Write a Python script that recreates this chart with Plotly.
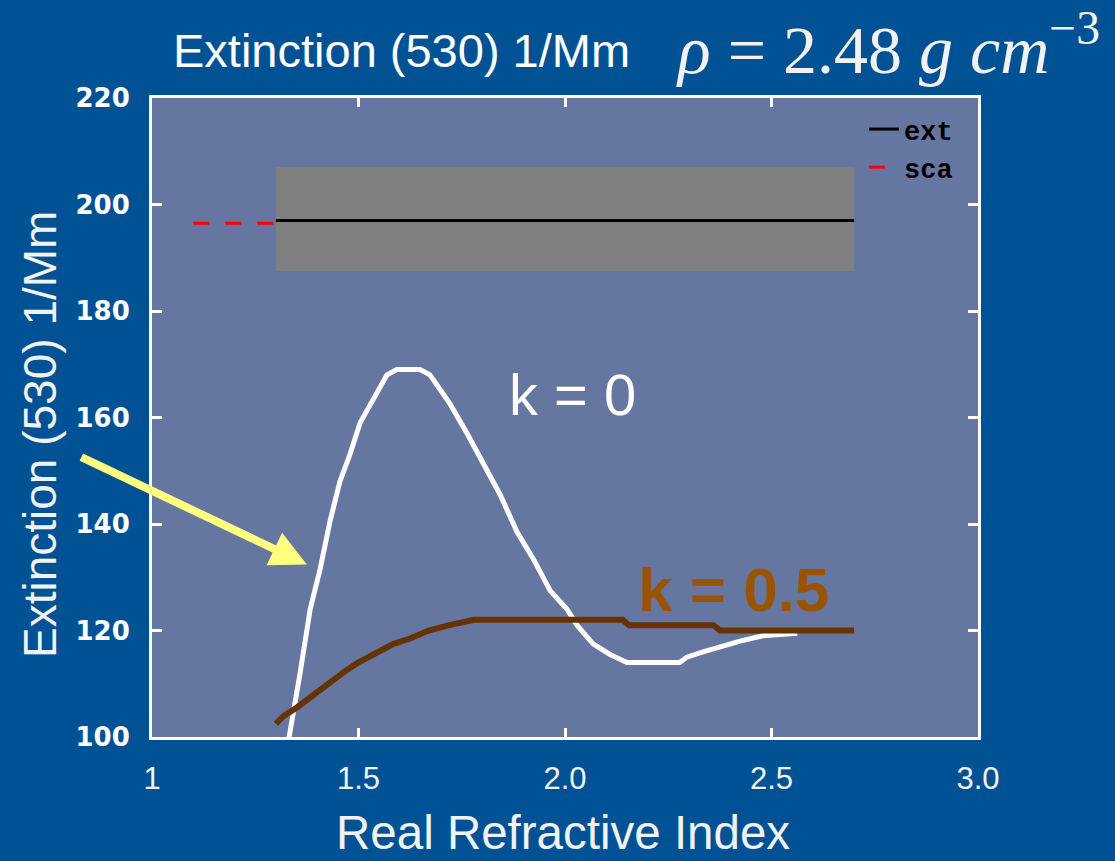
import plotly.graph_objects as go

# ---------------- data ----------------
# k = 0 (white curve)
n_k0 = [1.322, 1.332, 1.358, 1.383, 1.407, 1.431, 1.455, 1.479, 1.504, 1.528, 1.552,
        1.569, 1.593, 1.649, 1.673, 1.722, 1.763, 1.801, 1.843, 1.884, 1.923, 1.964,
        2.005, 2.029, 2.068, 2.109, 2.150, 2.278, 2.295, 2.334, 2.375, 2.424, 2.479, 2.562]
ext_k0 = [96, 100, 111.7, 124, 131.5, 140.5, 148, 153, 159, 162.5, 166,
          168, 169, 169, 168, 162.5, 157, 151.5, 145.5, 138.5, 133.5, 127.5,
          124, 121, 117.5, 115.5, 114, 114, 115, 116, 117, 118, 119, 119.5]

# k = 0.5 (brown curve)
n_k05 = [1.30, 1.32, 1.35, 1.375, 1.41, 1.44, 1.47, 1.50, 1.545, 1.585, 1.625,
         1.67, 1.72, 1.78, 2.14, 2.155, 2.36, 2.375, 2.70]
ext_k05 = [102.5, 104, 105.5, 107, 109, 111, 112.5, 114, 116, 117.5, 118.5,
           120, 121, 122, 122, 121, 121, 120, 120]

# measured extinction with uncertainty band, and scattering
meas_n = [1.3, 2.7]
meas_ext = [197, 197]
meas_ext_lo = [187.5, 187.5]
meas_ext_hi = [207, 207]
sca_n = [1.1, 1.3]
sca_val = [196.5, 196.5]

x_ticks = [1, 1.5, 2, 2.5, 3]
x_tick_text = ["1", "1.5", "2.0", "2.5", "3.0"]
y_ticks = [100, 120, 140, 160, 180, 200, 220]

# ---------------- styling ----------------
BG = "#005294"
PLOT_BG = "#6577a1"
WHITE = "#ffffff"

fig = go.Figure()

# uncertainty band (gray box)
fig.add_trace(go.Scatter(x=meas_n, y=meas_ext_lo, mode="lines", line=dict(width=0),
                         showlegend=False, hoverinfo="skip"))
fig.add_trace(go.Scatter(x=meas_n, y=meas_ext_hi, mode="lines", line=dict(width=0),
                         fill="tonexty", fillcolor="#808080", showlegend=False, hoverinfo="skip"))

fig.add_trace(go.Scatter(x=meas_n, y=meas_ext, mode="lines", name="ext",
                         line=dict(color="black", width=3)))
fig.add_trace(go.Scatter(x=sca_n, y=sca_val, mode="lines", name="sca",
                         line=dict(color="#ff0000", width=3, dash="16px,16px")))

fig.add_trace(go.Scatter(x=n_k0, y=ext_k0, mode="lines", showlegend=False,
                         line=dict(color=WHITE, width=5)))
fig.add_trace(go.Scatter(x=n_k05, y=ext_k05, mode="lines", showlegend=False,
                         line=dict(color="#663300", width=6)))

W, H = 1115, 861
L, R, T, B = 152, 978, 98, 737


def px(x):
    return (x - L) / (R - L)


def py(y):
    return (B - y) / (B - T)


annotations = [
    dict(text="Extinction (530) 1/Mm", xref="paper", yref="paper", x=px(401), y=py(50),
         showarrow=False, font=dict(family="Liberation Sans, Arial", size=47, color=WHITE),
         xanchor="center", yanchor="middle"),
    dict(text="<i>ρ</i> = 2.48 <i>g cm</i><sup>−3</sup>", xref="paper", yref="paper",
         x=px(674), y=py(45), showarrow=False,
         font=dict(family="Liberation Serif, Times New Roman", size=68, color="#f2f2f2"),
         xanchor="left", yanchor="middle"),
    dict(text="Extinction (530) 1/Mm", xref="paper", yref="paper", x=px(40), y=py(435),
         showarrow=False, textangle=-90,
         font=dict(family="Liberation Sans, Arial", size=46, color="#f2f2f2"),
         xanchor="center", yanchor="middle"),
    dict(text="Real Refractive Index", xref="paper", yref="paper", x=px(563), y=py(832),
         showarrow=False, font=dict(family="Liberation Sans, Arial", size=47.5, color="#f2f2f2"),
         xanchor="center", yanchor="middle"),
    dict(text="k = 0", x=2.017, y=164.4, xref="x", yref="y", showarrow=False,
         font=dict(family="Liberation Sans, Arial", size=58, color=WHITE),
         xanchor="center", yanchor="middle"),
    dict(text="<b>k = 0.5</b>", x=2.407, y=127.7, xref="x", yref="y", showarrow=False,
         font=dict(family="Liberation Sans, Arial", size=62, color="#9a5300"),
         xanchor="center", yanchor="middle"),
    dict(text="", x=1.375, y=132.4, xref="x", yref="y", showarrow=True,
         ax=-227, ay=-108, arrowhead=2, arrowsize=0.9, arrowwidth=8,
         arrowcolor="#ffff80", standoff=0),
]

fig.update_layout(
    width=W, height=H,
    margin=dict(l=L, r=W - R, t=T, b=H - B),
    paper_bgcolor=BG, plot_bgcolor=PLOT_BG,
    annotations=annotations,
    legend=dict(x=px(864), y=py(105), xanchor="left", yanchor="top",
                bgcolor="rgba(0,0,0,0)", borderwidth=0, traceorder="normal",
                font=dict(family="Liberation Mono, Courier New", size=27, color="black",
                          weight="bold"),
                itemwidth=30, tracegroupgap=0),
    showlegend=True,
)
fig.update_xaxes(range=[1, 3], tickvals=x_ticks, ticktext=x_tick_text,
                 showgrid=False, zeroline=False, showline=True, linecolor=WHITE,
                 linewidth=3, mirror="ticks", ticks="inside", ticklen=9, tickwidth=3,
                 tickcolor=WHITE, ticklabelstandoff=12,
                 tickfont=dict(family="Liberation Sans, Arial", size=31, color="#f2f2f2"))
fig.update_yaxes(range=[100, 220], tickvals=y_ticks,
                 showgrid=False, zeroline=False, showline=True, linecolor=WHITE,
                 linewidth=3, mirror="ticks", ticks="inside", ticklen=10, tickwidth=3,
                 tickcolor=WHITE, ticklabelstandoff=14,
                 tickfont=dict(family="DejaVu Sans", size=26, color=WHITE, weight="bold"))

fig.write_html("out.html")
